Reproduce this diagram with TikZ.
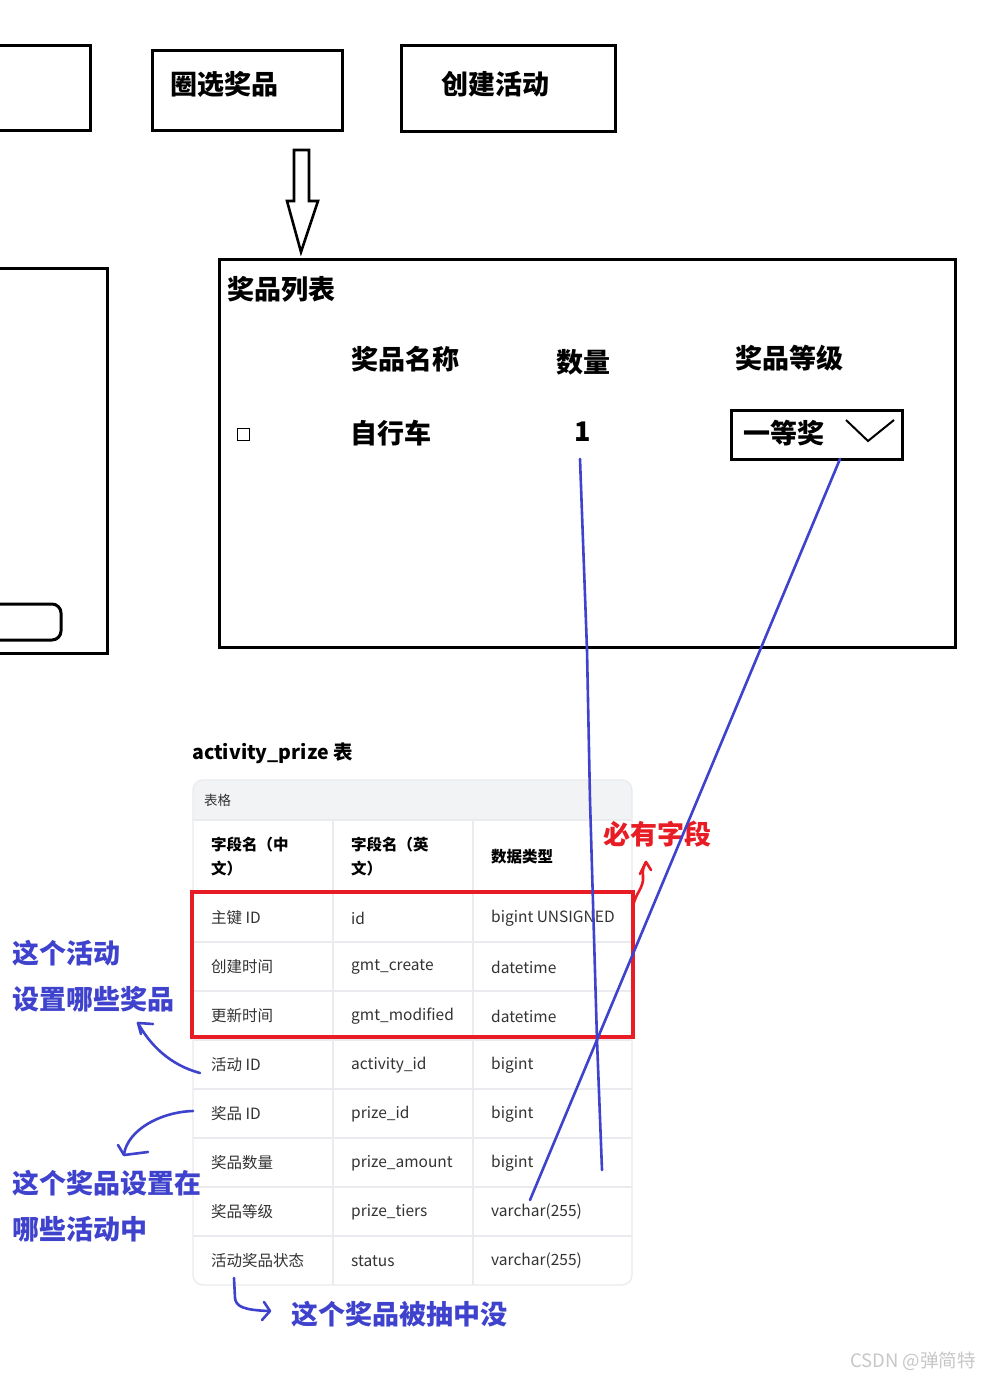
\documentclass[tikz,border=0pt]{standalone}
\usepackage{fontspec}
\setmainfont{Noto Sans CJK SC}
\usetikzlibrary{arrows.meta}
\definecolor{pen}{RGB}{62,66,204}
\definecolor{redpen}{RGB}{232,28,36}
\definecolor{gridc}{RGB}{234,235,238}
\definecolor{headc}{RGB}{242,243,245}
\definecolor{cellt}{RGB}{51,51,51}
\tikzset{
  frame/.style={draw=black,line width=3pt},
  big/.style={font=\fontsize{27}{31}\selectfont\bfseries,inner sep=0pt,anchor=west},
  label/.style={font=\fontsize{27}{31}\selectfont\bfseries,text=pen,inner sep=0pt,anchor=west},
  cell/.style={font=\fontsize{15.5}{18}\selectfont,text=cellt,inner sep=0pt,anchor=west},
  hcell/.style={font=\fontsize{15.5}{24}\selectfont\bfseries,text=black,inner sep=0pt,anchor=west,align=left},
  penline/.style={draw=pen,line width=2.6pt,line cap=round,line join=round},
}
\begin{document}
\begin{tikzpicture}[x=1pt,y=-1pt]
\useasboundingbox (0,0) rectangle (981,1378);
\clip (0,0) rectangle (981,1378);
\fill[white] (0,0) rectangle (981,1378);

% top boxes
\draw[frame] (-10,46) rectangle (90,131);
\node[frame,minimum width=190,minimum height=80,anchor=north west,inner sep=0pt] (sel) at (151,49) {};
\node[big] (selt) at (170,84) {圈选奖品};
\node[frame,minimum width=214,minimum height=86,anchor=north west,inner sep=0pt] (act) at (400,44) {};
\node[big] (actt) at (441,84) {创建活动};

% hollow arrow
\draw[line width=2.6pt,line join=miter] (294,150) -- (309,150) -- (309,201) -- (318,201) -- (301,252) -- (287,201) -- (294,201) -- cycle;

% left partial box
\draw[frame] (-10,268) rectangle (107,653);
\draw[line width=3pt,rounded corners=9pt] (-20,604) -- (61,604) -- (61,640) -- (-20,640);

% big list box
\node[frame,minimum width=736,minimum height=388,anchor=north west,inner sep=0pt] (list) at (218,258) {};
\node[big] (lt) at (227,289) {奖品列表};
\node[big] (h1) at (351,359) {奖品名称};
\node[big] (h2) at (556,362) {数量};
\node[big] (h3) at (735,358) {奖品等级};
\draw[draw=black,line width=1.3pt] (237.5,428.5) rectangle (249.5,440.5);
\node[big] (r1) at (350,433) {自行车};
\node[big] (qty) at (574,432) {1};
\node[frame,minimum width=171,minimum height=49,anchor=north west,inner sep=0pt] (dd) at (730,409) {};
\node[big] (ddt) at (743,433) {一等奖};
\draw[line width=2pt] (846,420) -- (868,441) -- (894,420);

% table title
\node[font=\fontsize{19.5}{22}\selectfont\bfseries,inner sep=0pt,anchor=west] (tt) at (192,753) {activity\_prize 表};

% table
\fill[headc,rounded corners=10pt] (193,780) rectangle (632,830);
\fill[white] (193,820) rectangle (632,835);
\draw[gridc,line width=1.3pt,rounded corners=10pt] (193,780) rectangle (632,1285);
\foreach \y in {820,893,942,991,1040,1089,1138,1187,1236} \draw[gridc,line width=1.3pt] (193,\y) -- (632,\y);
\draw[gridc,line width=1.3pt] (333,820) -- (333,1285) (473,820) -- (473,1285);
\node[font=\fontsize{13.5}{15}\selectfont,text=cellt,inner sep=0pt,anchor=west] (tg) at (204,800) {表格};
\node[hcell] (c1) at (211,857) {字段名（中\\文）};
\node[hcell] (c2) at (351,857) {字段名（英\\文）};
\node[hcell] (c3) at (491,857) {数据类型};

\foreach \a/\b/\c [count=\i from 0] in {主键 ID/id/bigint UNSIGNED,创建时间/gmt\_create/datetime,更新时间/gmt\_modified/datetime,活动 ID/activity\_id/bigint,奖品 ID/prize\_id/bigint,奖品数量/prize\_amount/bigint,奖品等级/prize\_tiers/varchar(255),活动奖品状态/status/varchar(255)}{
  \node[cell] (a\i) at (211,{918+49*\i}) {\a};
  \node[cell] (b\i) at (351,{918+49*\i}) {\b};
  \node[cell] (t\i) at (491,{918+49*\i}) {\c};
}

% red box and label
\draw[redpen,line width=3.2pt] (192,892) rectangle (633,1037);
\node[font=\fontsize{27}{31}\selectfont\bfseries,text=redpen,inner sep=0pt,anchor=west] (must) at (603,834) {必有字段};
\draw[redpen,line width=2.6pt,line cap=round,line join=round] (633,906) .. controls (636,892) and (644,888) .. (643,876) .. controls (642,870) and (644,866) .. (646,862);
\draw[redpen,line width=2.6pt,line cap=round,line join=round] (640,874) -- (646,862) -- (651,870);

% blue lines
\coordinate (q1) at (580,459);
\coordinate (q2) at (602,1170);
\coordinate (d1) at (840,459);
\coordinate (d2) at (530,1200);
\draw[penline] (q1) -- (587,650) -- (590,800) -- (597,1040) -- (q2);
\draw[penline] (d1) -- (d2);

% blue labels
\node[label] (l1) at (12,953) {这个活动};
\node[label] (l2) at (12,999) {设置哪些奖品};
\node[label] (l3) at (12,1183) {这个奖品设置在};
\node[label] (l4) at (12,1229) {哪些活动中};
\node[label] (l5) at (291,1314) {这个奖品被抽中没};

% blue arrows
\draw[penline] (200,1073) .. controls (170,1065) and (150,1045) .. (138,1023);
\draw[penline] (153,1024) -- (138,1023) -- (141,1034);
\draw[penline] (193,1111) .. controls (160,1112) and (128,1130) .. (124,1154);
\draw[penline] (118,1145) -- (124,1155) -- (148,1152);
\draw[penline] (234,1278) -- (235,1298) .. controls (236,1306) and (242,1310) .. (269,1311);
\draw[penline] (264,1302) -- (270,1311) -- (262,1320);

% watermark
\node[font=\fontsize{18.5}{21}\selectfont,text=black!22,inner sep=0pt,anchor=west] (wm) at (850,1361) {CSDN @弹简特};
\end{tikzpicture}
\end{document}
